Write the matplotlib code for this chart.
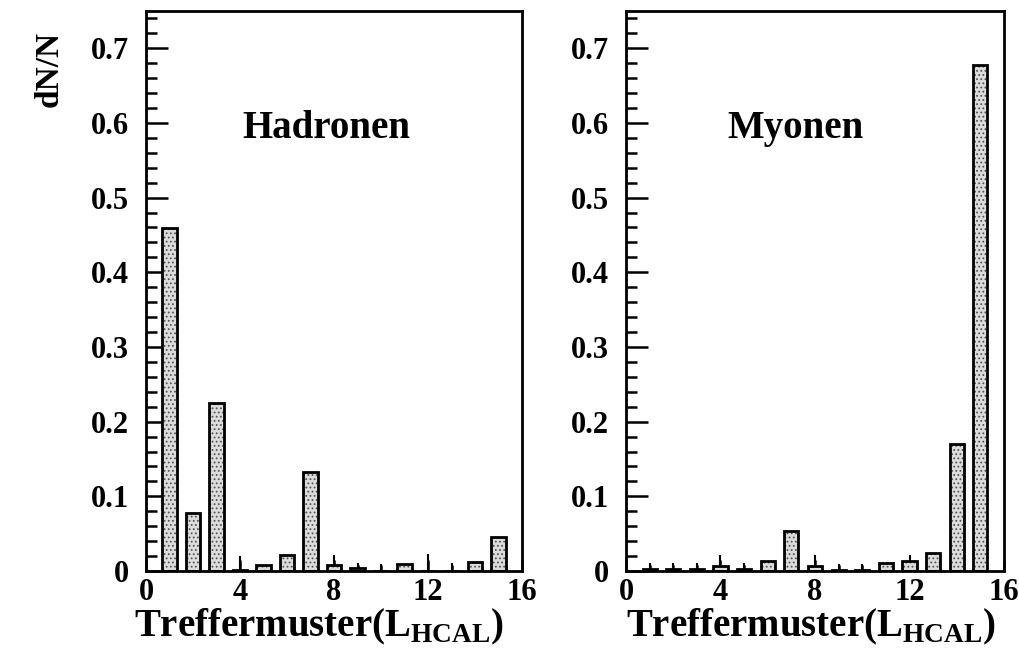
import numpy as np
import matplotlib.pyplot as plt
from matplotlib.ticker import MultipleLocator

# hit pattern index
pattern = np.arange(1, 16)

hadron_frac = [0.459, 0.078, 0.225, 0.002, 0.008, 0.022, 0.132, 0.008,
               0.004, 0.0, 0.009, 0.0, 0.0, 0.012, 0.046]
hadron_err = [0, 0, 0, 0.018, 0, 0, 0, 0.013,
              0.007, 0.010, 0, 0.023, 0.011, 0, 0]

muon_frac = [0.003, 0.003, 0.003, 0.007, 0.003, 0.013, 0.053, 0.007,
             0.002, 0.002, 0.011, 0.014, 0.024, 0.170, 0.678]
muon_err = [0.008, 0.008, 0.008, 0.014, 0.008, 0, 0, 0.014,
            0.007, 0.007, 0, 0.007, 0, 0, 0]

panel_names = ["Hadronen", "Myonen"]
name_xpos = [0.479, 0.448]
xlabel_xpos = [0.46, 0.49]
xticks = [0, 4, 8, 12, 16]

plt.rcParams["font.family"] = ["Liberation Serif", "DejaVu Serif"]
plt.rcParams["font.weight"] = "bold"
plt.rcParams["mathtext.fontset"] = "custom"
plt.rcParams["mathtext.rm"] = "Liberation Serif:bold"
plt.rcParams["mathtext.bf"] = "Liberation Serif:bold"
plt.rcParams["hatch.linewidth"] = 0.8

fig = plt.figure(figsize=(10.19, 6.59), dpi=100)
ax_left = fig.add_axes([0.1433, 0.1335, 0.369, 0.85])
ax_right = fig.add_axes([0.6143, 0.1335, 0.371, 0.85])

panels = [(ax_left, hadron_frac, hadron_err, panel_names[0], name_xpos[0], xlabel_xpos[0]),
          (ax_right, muon_frac, muon_err, panel_names[1], name_xpos[1], xlabel_xpos[1])]

for ax, vals, errs, name, nx, lx in panels:
    # dotted fill
    ax.bar(pattern, vals, width=0.6, facecolor="#dcdcdc", edgecolor="#555555",
           hatch="....", linewidth=0, zorder=2)
    # black outline
    ax.bar(pattern, vals, width=0.6, fill=False, edgecolor="black",
           linewidth=2.0, zorder=3)
    errs = np.array(errs)
    ax.errorbar(pattern, vals, yerr=[np.zeros_like(errs), errs], fmt="none",
                ecolor="black", elinewidth=1.5, capsize=0, zorder=4)

    ax.set_xlim(0, 16)
    ax.set_ylim(0, 0.75)
    ax.set_xticks(xticks)
    ax.xaxis.set_minor_locator(MultipleLocator(1))
    ax.yaxis.set_major_locator(MultipleLocator(0.1))
    ax.yaxis.set_minor_locator(MultipleLocator(0.02))
    ax.yaxis.set_major_formatter(plt.FuncFormatter(
        lambda v, p: "0" if abs(v) < 1e-9 else f"{v:.1f}"))
    ax.tick_params(axis="both", which="both", direction="in", width=1.8,
                   labelsize=22, top=False, right=False)
    ax.tick_params(axis="y", which="major", length=16, pad=12)
    ax.tick_params(axis="y", which="minor", length=8)
    ax.tick_params(axis="x", which="major", length=8, pad=5)
    ax.tick_params(axis="x", which="minor", length=4)
    for lab in ax.get_xticklabels() + ax.get_yticklabels():
        lab.set_fontweight("bold")
    for sp in ax.spines.values():
        sp.set_linewidth(2.0)

    ax.text(nx, 0.79, name, transform=ax.transAxes, ha="center", va="center",
            fontsize=28, fontweight="bold")
    ax.set_xlabel(r"Treffermuster(L$_{\mathbf{HCAL}}$)", fontsize=28,
                  fontweight="bold", labelpad=0)
    ax.xaxis.label.set_x(lx)

fig.text(0.048, 0.895, "dN/N", rotation=90, ha="center", va="center",
         fontsize=24, fontweight="bold")

fig.savefig("out.png", dpi=100)
